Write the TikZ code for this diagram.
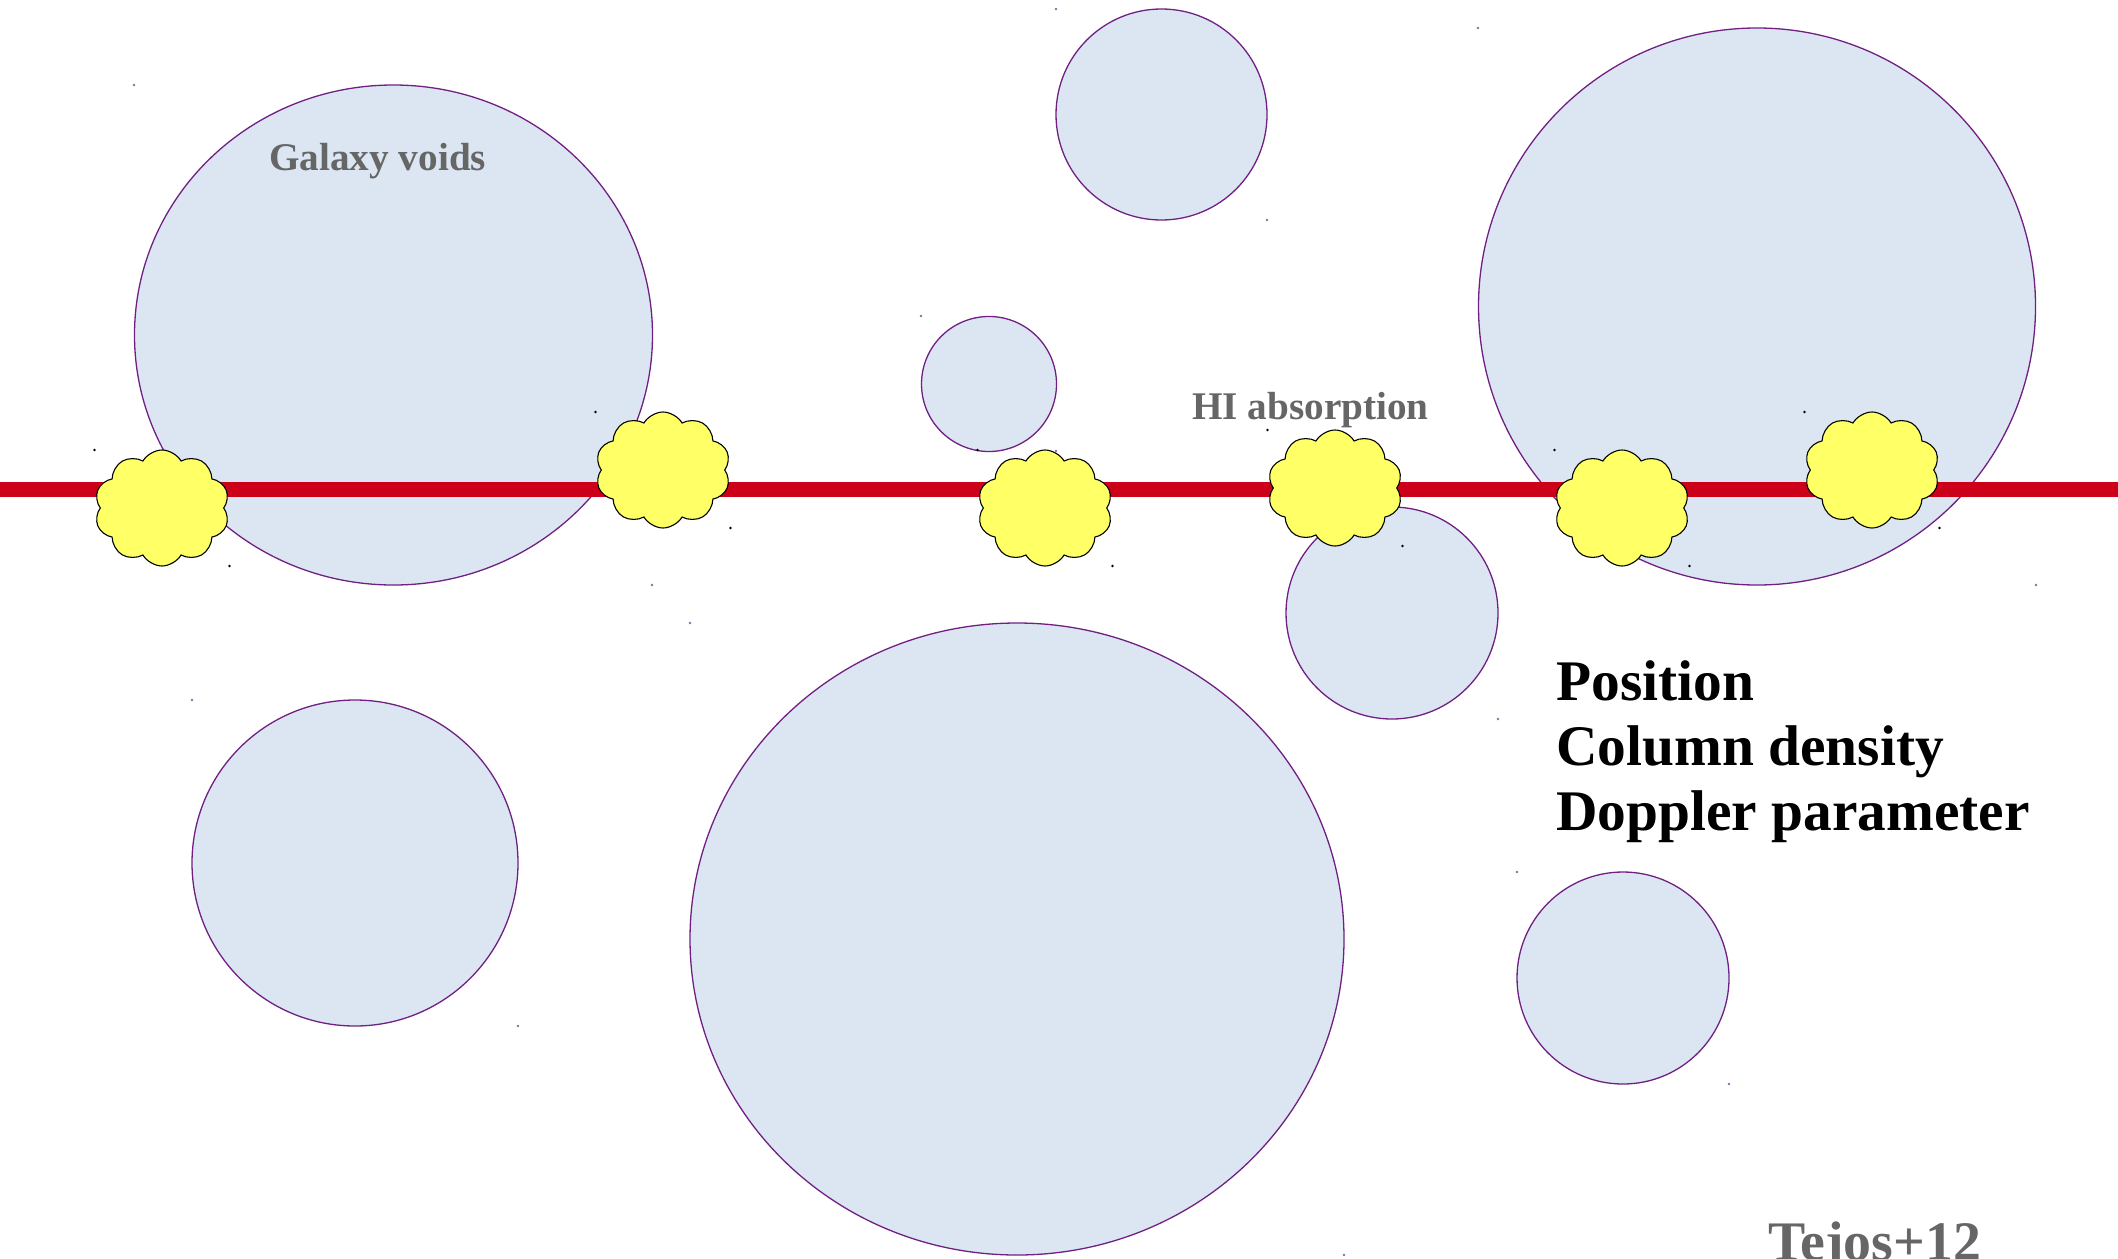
\documentclass[tikz,border=0pt]{standalone}
\usepackage{fontspec}
\setmainfont{Liberation Serif}
\usetikzlibrary{shapes.symbols}

\definecolor{voidfill}{RGB}{220,230,242}
\definecolor{voidline}{RGB}{112,32,130}
\definecolor{sightline}{RGB}{204,0,24}
\definecolor{cloudyellow}{RGB}{255,255,102}
\definecolor{labelgray}{RGB}{102,102,102}

\begin{document}
\begin{tikzpicture}[x=0.5pt,y=-0.5pt,
  void/.style={fill=voidfill,draw=voidline,line width=0.65pt},
  sight/.style={draw=sightline,line width=7.5pt},
  absorber/.style={cloud,cloud puffs=10,cloud puff arc=120,cloud ignores aspect,
    minimum width=67.5pt,minimum height=58pt,inner sep=0pt,
    draw=black,fill=cloudyellow,line width=0.55pt},
  graylabel/.style={inner sep=0pt,anchor=base west,text=labelgray,
    font=\fontsize{19.6pt}{24pt}\selectfont\bfseries},
  infolabel/.style={inner sep=0pt,anchor=base west,text=black,
    font=\fontsize{28.7pt}{32pt}\selectfont\bfseries},
  voidmark/.style={fill=voidline!70},
  cloudmark/.style={fill=black}]

\useasboundingbox (0,0) rectangle (2118,1258);

% galaxy voids
\draw[void] (393.5,335)  ellipse [x radius=259, y radius=250];
\draw[void] (1161.5,114.5) circle [radius=105.5];
\draw[void] (989,384)    circle [radius=67.5];
\draw[void] (1757,306.5) circle [radius=278.5];
\draw[void] (1392,613)   circle [radius=106];
\draw[void] (355,863)    circle [radius=163];
\draw[void] (1017,939)   ellipse [x radius=327, y radius=316];
\draw[void] (1623,978)   circle [radius=106];

% corner handles of the voids
\foreach \p in {(134,85),(652,585),(1056,9),(1267,220),(921,316),(1056,451),
                (1478,28),(2036,585),(1286,507),(1498,719),(192,700),(518,1026),
                (690,623),(1344,1255),(1517,872),(1729,1084)}
  \fill[voidmark] \p circle [radius=1.3];

% line of sight
\coordinate (losW) at (0,489);
\coordinate (losE) at (2118,489);
\draw[sight] (losW) -- (losE);

% HI absorbers along the line of sight
\node[absorber] (a1) at (162,508) {};
\node[absorber] (a2) at (663,470) {};
\node[absorber] (a3) at (1045,508) {};
\node[absorber] (a4) at (1335,488) {};
\node[absorber] (a5) at (1622,508) {};
\node[absorber] (a6) at (1872,470) {};

% corner handles of the absorbers
\foreach \x/\y in {162/508,663/470,1045/508,1335/488,1622/508,1872/470} {
  \fill[cloudmark] (\x-67.5,\y-58) circle [radius=1.3];
  \fill[cloudmark] (\x+67.5,\y+58) circle [radius=1.3];
}

% labels
\node[graylabel] (voids) at (269,170) {Galaxy voids};
\node[graylabel] (hiabs) at (1192,419) {HI absorption};
\node[infolabel] (pos) at (1556,700) {Position};
\node[infolabel] (col) at (1556,765) {Column density};
\node[infolabel] (dop) at (1556,830) {Doppler parameter};
\node[graylabel,font=\fontsize{27.9pt}{30pt}\selectfont\bfseries] (ref) at (1768,1260) {Tejos+12};

\end{tikzpicture}
\end{document}
